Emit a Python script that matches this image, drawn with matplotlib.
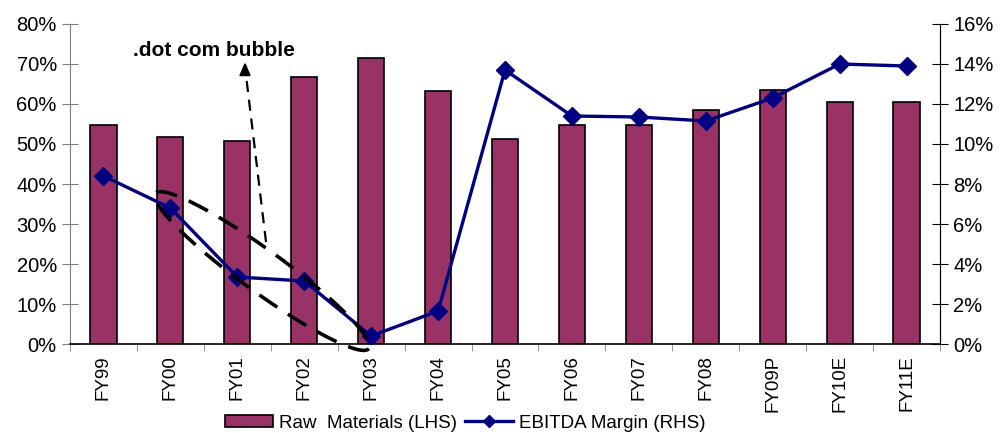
import numpy as np
import matplotlib.pyplot as plt
from matplotlib.lines import Line2D
from matplotlib.ticker import FuncFormatter, FixedLocator

plt.rcParams['font.family'] = ['Liberation Sans', 'DejaVu Sans']

# ---- data ----
years = ["FY99", "FY00", "FY01", "FY02", "FY03", "FY04", "FY05",
         "FY06", "FY07", "FY08", "FY09P", "FY10E", "FY11E"]
raw_materials = [54.8, 51.7, 50.8, 66.8, 71.6, 63.2, 51.3,
                 54.8, 54.8, 58.5, 63.6, 60.4, 60.4]       # % of sales, LHS
ebitda_margin = [8.4, 6.8, 3.35, 3.15, 0.4, 1.65, 13.7,
                 11.4, 11.35, 11.15, 12.3, 14.0, 13.9]     # %, RHS

bar_color = "#993366"
line_color = "#000080"

fig = plt.figure(figsize=(10, 4.33), dpi=100)
ax = fig.add_axes([0.07, 0.2055, 0.87, 0.7391])
ax2 = ax.twinx()

x = np.arange(len(years))
ax.bar(x, raw_materials, width=0.39, color=bar_color, edgecolor="black",
       linewidth=1.2, label="Raw  Materials (LHS)", zorder=2)
ax2.plot(x, ebitda_margin, color=line_color, lw=2.4, marker="D", ms=9.5,
         label="EBITDA Margin (RHS)", zorder=3)

ax.set_xlim(-0.5, len(years) - 0.5)
ax.set_ylim(0, 80)
ax2.set_ylim(0, 16)
ax.set_yticks(np.arange(0, 81, 10))
ax2.set_yticks(np.arange(0, 17, 2))
ax.yaxis.set_major_formatter(FuncFormatter(lambda v, p: f"{v:.0f}%"))
ax2.yaxis.set_major_formatter(FuncFormatter(lambda v, p: f"{v:.0f}%"))

ax.set_xticks(x)
ax.set_xticklabels(years, rotation=90, fontsize=13.5)
ax.xaxis.set_minor_locator(FixedLocator(np.arange(-0.5, len(years), 1)))
ax.tick_params(axis="x", which="major", length=0, pad=8)
ax.tick_params(axis="x", which="minor", length=5, direction="out", color="#808080")
ax.tick_params(axis="y", direction="inout", length=12, labelsize=14.5, color="#808080")
ax2.tick_params(axis="y", direction="inout", length=12, labelsize=14.5)

for a in (ax, ax2):
    a.spines["top"].set_visible(False)
ax2.spines["left"].set_visible(False)
ax2.spines["bottom"].set_visible(False)
ax.spines["left"].set_color("#808080")
ax.spines["bottom"].set_linewidth(1.2)

# ---- annotation: dot com bubble ----
def px(xp, yp):
    return np.asarray(xp) / 1000.0, 1 - np.asarray(yp) / 433.0

t = np.linspace(0, 2 * np.pi, 200)
cx, cy, a_len, b_len, ang = 262, 271, 132, 21, np.deg2rad(36)
ex = cx + a_len * np.cos(t) * np.cos(ang) - b_len * np.sin(t) * np.sin(ang)
ey = cy + a_len * np.cos(t) * np.sin(ang) + b_len * np.sin(t) * np.cos(ang)
fx, fy = px(ex, ey)
fig.add_artist(Line2D(fx, fy, transform=fig.transFigure, color="black",
                      lw=2.6, ls=(0, (6, 3.5)), zorder=5))

sx, sy = px(266, 242)
tx, ty = px(245, 66)
fig.add_artist(plt.Line2D([sx, tx], [sy, ty - 0.002], transform=fig.transFigure,
                          color="black", lw=1.6, ls=(0, (5, 3.5))))
fig.patches.append(plt.Polygon([[tx, ty + 0.005], [tx - 0.005, ty - 0.022], [tx + 0.005, ty - 0.022]],
                               closed=True, transform=fig.transFigure, color="black",
                               figure=fig))
fig.text(0.214, 1 - 50 / 433, ".dot com bubble", fontsize=15, fontweight="bold",
         ha="center", va="center")

# ---- legend ----
h1, l1 = ax.get_legend_handles_labels()
h2, l2 = ax2.get_legend_handles_labels()
fig.legend(h1 + h2, l1 + l2, loc="center", bbox_to_anchor=(0.465, 1 - 423 / 433),
           ncol=2, frameon=False, fontsize=13.5, handlelength=2.6, handleheight=0.55,
           columnspacing=0.4, handletextpad=0.3, markerscale=0.65)

fig.savefig("out.png", dpi=100)
